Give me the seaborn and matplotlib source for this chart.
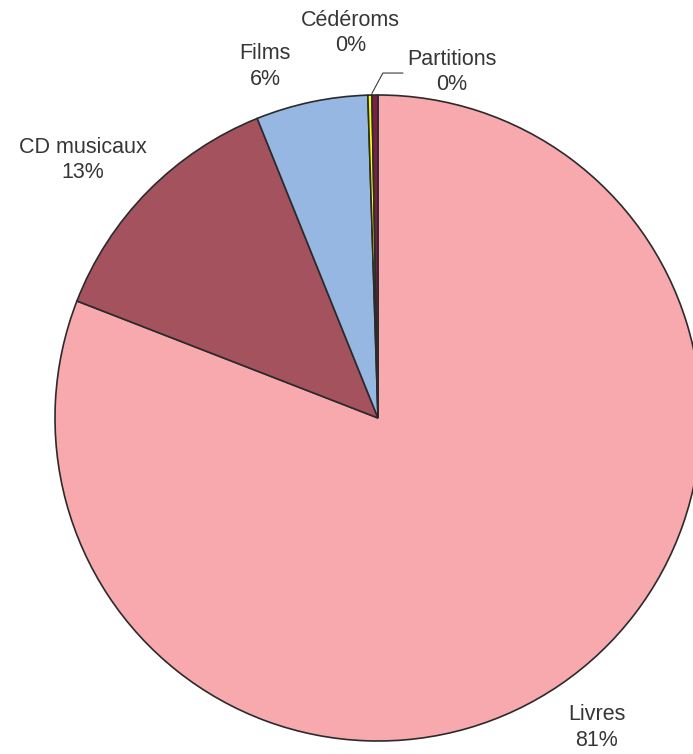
import numpy as np
import matplotlib
matplotlib.use("Agg")
import matplotlib.pyplot as plt
import seaborn as sns

categories = ["Livres", "CD musicaux", "Films", "Cédéroms", "Partitions"]
values = [80.9, 13.0, 5.6, 0.2, 0.3]
pct_labels = ["81%", "13%", "6%", "0%", "0%"]
colors = ["#F7A9AD", "#A5525F", "#95B7E1", "#FFFF00", "#7A1F45"]

sns.set_theme(style="white")
plt.rcParams["font.family"] = ["Liberation Sans", "DejaVu Sans"]

fig = plt.figure(figsize=(6.93, 7.54), dpi=100)
ax = fig.add_axes([0, 0, 1, 1])

wedges, _ = ax.pie(values, colors=colors, startangle=90, counterclock=False,
                   wedgeprops=dict(edgecolor="#2b2b2b", linewidth=1.2))

ax.set_xlim(-378 / 323, (693 - 378) / 323)
ax.set_ylim((418 - 754) / 323, 418 / 323)
ax.set_aspect("auto")
ax.axis("off")

# label centres (data units, pie radius = 1)
label_pos = [(0.678, -0.957), (-0.913, 0.799), (-0.350, 1.087),
             (-0.084, 1.192), (0.229, 1.071)]
for cat, pct, (lx, ly) in zip(categories, pct_labels, label_pos):
    ax.text(lx, ly, f"{cat}\n{pct}", ha="center", va="center",
            fontsize=15.5, color="#363636", linespacing=1.3)

# leader line for Partitions: from its outer boundary to the label
w = wedges[4]
cands = [np.deg2rad(w.theta1), np.deg2rad(w.theta2)]
th = min(cands, key=lambda t: np.cos(t))
x0, y0 = np.cos(th), np.sin(th)
ax.plot([x0, 0.015, 0.077], [y0 + 0.005, 1.068, 1.068], color="#3a3a3a", lw=0.8)

fig.savefig("out.png", dpi=100)
